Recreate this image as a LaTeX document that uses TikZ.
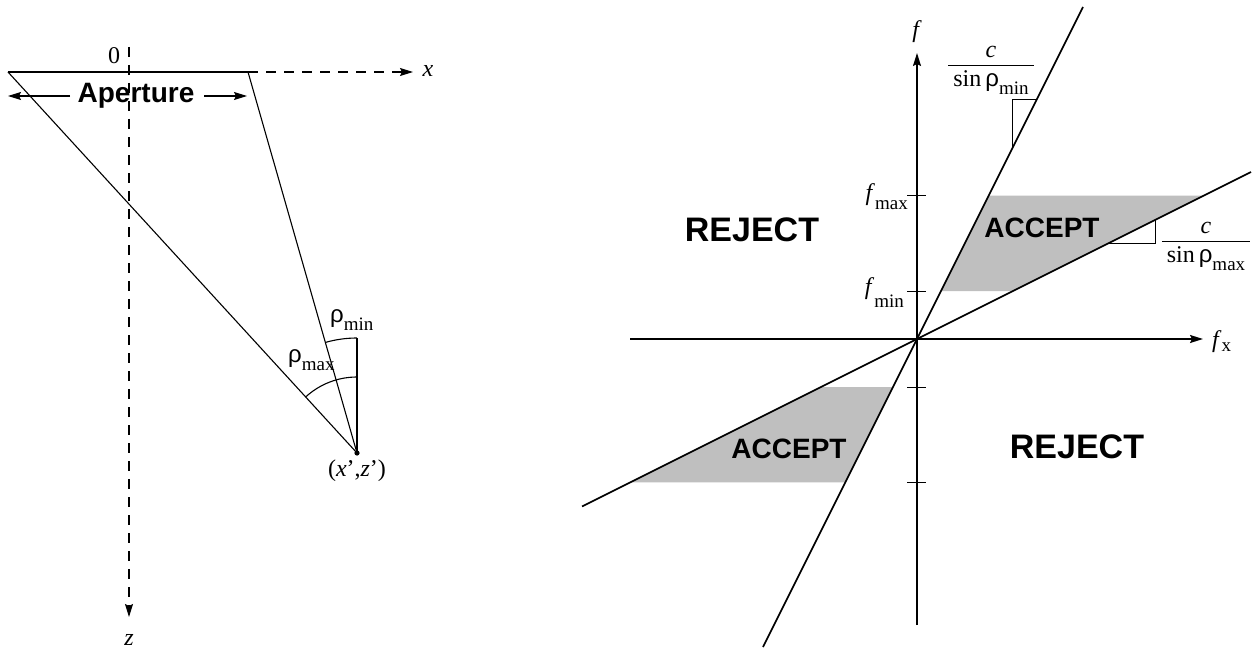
\documentclass[tikz,border=0pt]{standalone}
\usepackage{fontspec}
\setmainfont{Liberation Serif}
\newfontfamily\hv{Liberation Sans}
\usetikzlibrary{arrows.meta}
\newcommand{\myrho}{{\hv ρ}}
\newcommand{\sbs}[2][8bp]{\raisebox{-#1}{\fontsize{19bp}{20bp}\selectfont #2}}
\setlength{\arrayrulewidth}{1bp}
\tikzset{
  tipped/.style={-{Stealth[length=13bp,width=8bp,inset=2bp]}},
  dsh/.style={dash pattern=on 10bp off 8bp},
  lbl/.style={font=\fontsize{24bp}{28bp}\selectfont, inner sep=0pt},
  bigword/.style={font=\hv\bfseries\fontsize{34bp}{40bp}\selectfont, inner sep=0pt},
  midword/.style={font=\hv\bfseries\fontsize{28bp}{32bp}\selectfont, inner sep=0pt},
  shadezone/.style={fill=black!25, draw=none},
  leftline/.style={line width=1.1bp},
  rightline/.style={line width=1.6bp},
  markline/.style={line width=1bp},
}
\begin{document}
\begin{tikzpicture}[x=1bp,y=1bp]
\useasboundingbox (0,0) rectangle (1257,-650);
% ---------------- left diagram ----------------
\coordinate (A) at (8,-72);
\coordinate (B) at (248,-72);
\coordinate (P) at (357,-453);
\coordinate (Ptop) at (357,-338);
\coordinate (Vtop) at (129,-47);
\coordinate (Vbot) at (129,-617);
\coordinate (Xend) at (413,-72);
\coordinate (LA1) at (70,-96);
\coordinate (LA2) at (8,-96);
\coordinate (RA1) at (204,-96);
\coordinate (RA2) at (247,-96);
\draw[leftline,dsh,tipped] (Vtop) -- (Vbot);
\draw[leftline,dsh,tipped] (B) -- (Xend);
\draw[leftline] (A) -- (B);
\draw[leftline] (A) -- (P);
\draw[leftline] (B) -- (P);
\draw[leftline] (P) -- (Ptop);
\draw[leftline] (Ptop) arc[start angle=90, end angle=105.97, radius=115];
\draw[leftline] ([yshift=76bp]P) arc[start angle=90, end angle=132.5, radius=76];
\fill (P) circle (2.6);
\draw[leftline,tipped] (LA1) -- (LA2);
\draw[leftline,tipped] (RA1) -- (RA2);
\node[midword] (ap) at (136,-96) {Aperture};
\node[lbl] (zero) at (114,-56) {0};
\node[lbl] (xlab) at (428,-71) {\textit{x}};
\node[lbl] (zlab) at (129,-640) {\textit{z}};
\node[lbl] (plab) at (357,-471) {(\textit{x}’,\textit{z}’)};
\node[lbl,anchor=base west] (rmin) at (330,-322) {\myrho\sbs{min}};
\node[lbl,anchor=base west] (rmax) at (288,-362) {\myrho\sbs{max}};
% ---------------- right diagram ----------------
\begin{scope}[shift={(917,-339)}]
\coordinate (O) at (0,0);
\fill[shadezone] (71.65,143.3) -- (286.6,143.3) -- (96,48) -- (24,48) -- cycle;
\fill[shadezone] (-71.65,-143.3) -- (-286.6,-143.3) -- (-96,-48) -- (-24,-48) -- cycle;
\coordinate (hl) at (-287,0);
\coordinate (hr) at (286,0);
\coordinate (vb) at (0,-286);
\coordinate (vt) at (0,286);
\draw[rightline,tipped] (hl) -- (hr);
\draw[rightline,tipped] (vb) -- (vt);
\foreach \t/\n in {143.3/t1,48/t2,-48/t3,-143.3/t4}{
  \coordinate (\n a) at (-10,\t);
  \coordinate (\n b) at (9,\t);
  \draw[markline] (\n a) -- (\n b);
}
\coordinate (s1) at (-154,-308);
\coordinate (s2) at (166,332);
\coordinate (g1) at (-335,-167.5);
\coordinate (g2) at (334,167);
\draw[rightline] (s1) -- (s2);
\draw[rightline] (g1) -- (g2);
\coordinate (m1) at (95,190);
\coordinate (m2) at (95,239);
\coordinate (m3) at (119.5,239);
\draw[markline] (m1) -- (m2) -- (m3);
\coordinate (n1) at (191.4,95.7);
\coordinate (n2) at (238,95.7);
\coordinate (n3) at (238,119);
\draw[markline] (n1) -- (n2) -- (n3);
\node[lbl] (flab) at (0,307) {\textit{f}};
\node[lbl,anchor=base west] (fxlab) at (295,-8) {\textit{f}\sbs[4bp]{x}};
\node[lbl,anchor=base east] (fmaxlab) at (-9,138) {\textit{f}\sbs[9bp]{max}};
\node[lbl,anchor=base east] (fminlab) at (-13,45) {\textit{f}\sbs[13bp]{min}};
\node[bigword] (rej1) at (-165,109) {REJECT};
\node[bigword] (rej2) at (160,-108) {REJECT};
\node[midword] (acc1) at (125,111) {ACCEPT};
\node[midword] (acc2) at (-128,-110) {ACCEPT};
\node[lbl] (fracmin) at (74,273) {\begin{tabular}{@{\hspace{5bp}}c@{\hspace{5bp}}}\textit{c}\\\hline sin\,\myrho\sbs{min}\end{tabular}};
\node[lbl] (fracmax) at (289,97) {\begin{tabular}{@{\hspace{5bp}}c@{\hspace{5bp}}}\textit{c}\\\hline sin\,\myrho\sbs{max}\end{tabular}};
\end{scope}
\end{tikzpicture}
\end{document}
